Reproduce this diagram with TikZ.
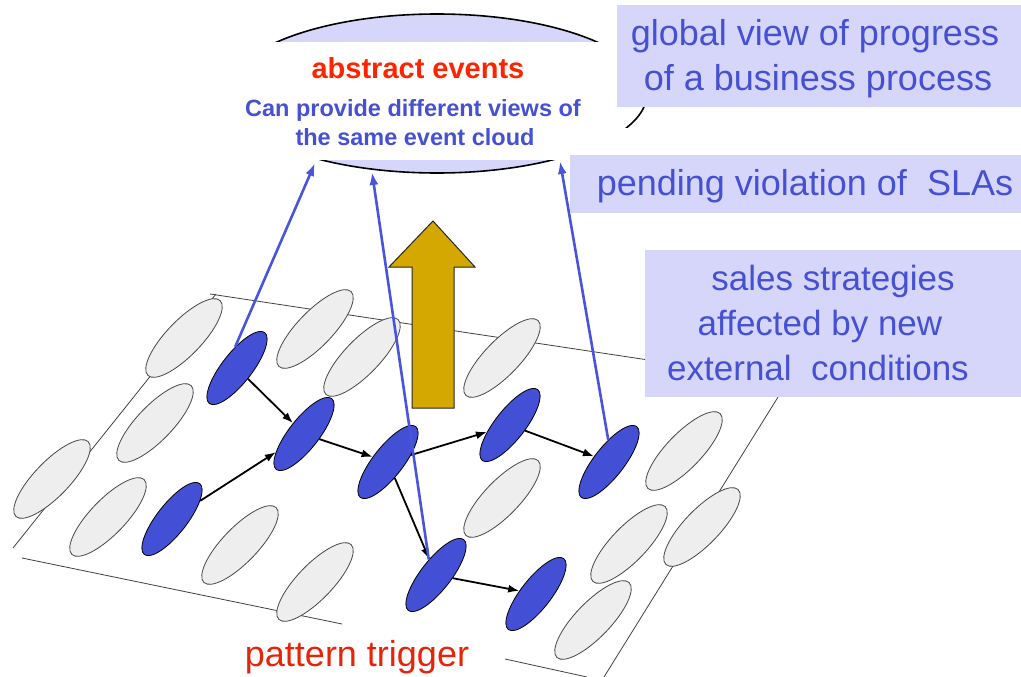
\documentclass[tikz,border=0pt]{standalone}
\usepackage{fontspec}
\setmainfont{Liberation Sans}
\usetikzlibrary{arrows.meta,shapes.geometric}

\definecolor{lav}{RGB}{213,214,250}
\definecolor{txtblue}{RGB}{70,80,210}
\definecolor{evblue}{RGB}{67,80,213}
\definecolor{lineblue}{RGB}{72,84,220}
\definecolor{evgrey}{RGB}{238,238,238}
\definecolor{redA}{RGB}{255,36,0}
\definecolor{redB}{RGB}{230,36,10}
\definecolor{gold}{RGB}{212,168,0}

\tikzset{
  idle/.style={ellipse, draw=black!72, line width=0.8pt, fill=evgrey,
    minimum width=104pt, minimum height=35pt, inner sep=0pt, rotate=46},
  hit/.style={ellipse, draw=black, line width=0.8pt, fill=evblue,
    minimum width=90pt, minimum height=30pt, inner sep=0pt, rotate=52},
  flow/.style={-{Latex[length=11pt,width=8pt]}, line width=1.8pt, black},
  lift/.style={-{Latex[length=13pt,width=9pt]}, line width=2.6pt, lineblue},
  planeline/.style={draw=black!75, line width=0.8pt},
  calloutbox/.style={fill=lav},
  cloudline/.style={draw=black, line width=1.6pt},
  bigtxt/.style={anchor=base, text=txtblue, inner sep=0pt},
}

\begin{document}
\begin{tikzpicture}[x=1pt,y=-1pt]
\useasboundingbox (0,0) rectangle (1021,677);

% the event plane
\draw[planeline] (216,294) -- (13,548);
\draw[planeline] (210,294) -- (788,381) -- (604,677);
\draw[planeline] (22,558) -- (342,624);
\draw[planeline] (505,659) -- (587,677);

% events that did not take part in the pattern
\node[idle] (g1)  at (184,338) {};
\node[idle] (g2)  at (315,329) {};
\node[idle] (g3)  at (362,357) {};
\node[idle] (g4)  at (155,423) {};
\node[idle] (g5)  at (52,479)  {};
\node[idle] (g6)  at (108,517) {};
\node[idle] (g7)  at (240,545) {};
\node[idle] (g8)  at (315,582) {};
\node[idle] (g9)  at (502,358) {};
\node[idle] (g10) at (502,498) {};
\node[idle] (g11) at (684,451) {};
\node[idle] (g12) at (629,544) {};
\node[idle] (g13) at (702,527) {};
\node[idle] (g14) at (593,620) {};

% events matched by the pattern
\node[hit] (b1) at (237,368) {};
\node[hit] (b2) at (304,434) {};
\node[hit] (b3) at (172,519) {};
\node[hit] (b4) at (388,462) {};
\node[hit] (b5) at (436,575) {};
\node[hit] (b6) at (510,425) {};
\node[hit] (b7) at (609,462) {};
\node[hit] (b8) at (536,594) {};

% causal links between matched events
\draw[flow] (b1) -- (b2);
\draw[flow] (b3) -- (b2);
\draw[flow] (b2) -- (b4);
\draw[flow] (b4) -- (b6);
\draw[flow] (b4) -- (b5);
\draw[flow] (b6) -- (b7);
\draw[flow] (b5) -- (b8);

% big upward arrow
\draw[fill=gold, draw=black!85, line width=1pt]
  (412,408) -- (412,267) -- (389,267) -- (433,221) -- (475,267)
  -- (454,267) -- (454,408) -- cycle;

% the abstract event cloud (only its rims show)
\begin{scope}
  \clip (200,0) rectangle (660,42);
  \draw[cloudline, fill=lav] (437,93.5) ellipse [x radius=210pt, y radius=79.5pt];
\end{scope}
\begin{scope}
  \clip (200,160) rectangle (660,200);
  \draw[cloudline, fill=lav] (437,93.5) ellipse [x radius=210pt, y radius=79.5pt];
\end{scope}
\begin{scope}
  \clip (615,107) rectangle (660,127);
  \draw[cloudline] (437,93.5) ellipse [x radius=210pt, y radius=79.5pt];
\end{scope}

\coordinate (c1) at (315,163);
\coordinate (c2) at (372,172);
\coordinate (c3) at (560,161);

% abstraction links up to the cloud
\draw[lift] (b1.43) -- (c1);
\draw[lift] (b5.63) -- (c2);
\draw[lift] (b7.40) -- (c3);

% cloud texts
\node[anchor=base, inner sep=0pt, text=redA, font=\bfseries\fontsize{29}{35}\selectfont]
  (abs) at (418,78) {abstract events};
\node[bigtxt, font=\bfseries\fontsize{23.5}{28}\selectfont] (v1) at (413,117)
  {Can provide different views of};
\node[bigtxt, font=\bfseries\fontsize{23.5}{28}\selectfont] (v2) at (415,146)
  {the same event cloud};

% callout boxes
\fill[calloutbox] (617,5) rectangle (1021,107);
\node[bigtxt, font=\fontsize{36}{44}\selectfont] (gv1) at (815,46) {global view of progress};
\node[bigtxt, font=\fontsize{36}{44}\selectfont] (gv2) at (818,91) {of a business process};

\fill[calloutbox] (570,155) rectangle (1021,213);
\node[bigtxt, font=\fontsize{36}{44}\selectfont] (pv) at (805,195) {pending violation of~~SLAs};

\fill[calloutbox] (645,250) rectangle (1021,397);
\node[bigtxt, font=\fontsize{35}{44}\selectfont] (ss1) at (833,290) {sales strategies};
\node[bigtxt, font=\fontsize{35}{44}\selectfont] (ss2) at (820,335) {affected by new};
\node[bigtxt, font=\fontsize{35}{44}\selectfont] (ss3) at (818,380) {external~~conditions};

% label under the plane
\node[anchor=base, inner sep=0pt, text=redB, font=\fontsize{36}{42}\selectfont]
  (pt) at (357,666) {pattern trigger};
\end{tikzpicture}
\end{document}
